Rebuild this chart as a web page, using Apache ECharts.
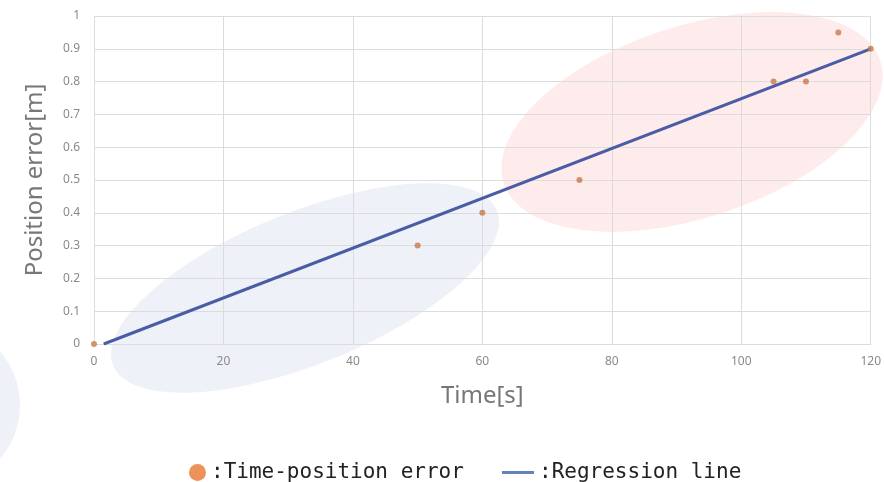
<!DOCTYPE html>
<html>
<head>
<meta charset="utf-8">
<script src="https://cdn.jsdelivr.net/npm/echarts@6/dist/echarts.min.js"></script>
<style>html,body{margin:0;padding:0;background:#fff}#c{width:884px;height:482px}</style>
</head>
<body>
<div id="c"></div>
<script>
// Data
const timeValues = [0, 50, 60, 75, 105, 110, 115, 120];
const errorValues = [0, 0.3, 0.4, 0.5, 0.8, 0.8, 0.95, 0.9];
const regressionX = [1.5, 120];
const regressionY = [0, 0.9];
const xTicks = [0, 20, 40, 60, 80, 100, 120];
const yTicks = [0, 0.1, 0.2, 0.3, 0.4, 0.5, 0.6, 0.7, 0.8, 0.9, 1];
const scatterName = 'Time-position error';
const lineName = 'Regression line';

const chart = echarts.init(document.getElementById('c'));
const gridColor = '#dcdcdc';
const labelColor = '#8a8a8a';
const titleFont = '"Noto Sans", "DejaVu Sans", sans-serif';
const legendFont = '"DejaVu Sans Mono", monospace';

chart.setOption({
  backgroundColor: '#ffffff',
  animation: false,
  graphic: [
    { type: 'circle', z: -10, x: 305, y: 288, rotation: 22 * Math.PI / 180, scaleX: 207, scaleY: 76,
      shape: { cx: 0, cy: 0, r: 1 }, style: { fill: 'rgba(214,218,240,0.38)' } },
    { type: 'circle', z: -10, x: 692, y: 122, rotation: 18 * Math.PI / 180, scaleX: 198, scaleY: 96,
      shape: { cx: 0, cy: 0, r: 1 }, style: { fill: 'rgba(250,208,205,0.40)' } },
    { type: 'circle', z: -10, x: -62, y: 405, scaleX: 82, scaleY: 82,
      shape: { cx: 0, cy: 0, r: 1 }, style: { fill: 'rgba(214,218,240,0.38)' } }
  ],
  grid: { left: 94, right: 12, top: 16, bottom: 138, containLabel: false },
  legend: [
    {
      data: [{ name: scatterName, icon: 'circle', itemStyle: { color: '#e8772e' } }],
      left: 184, top: 457, itemWidth: 17, itemHeight: 17, itemGap: 0,
      formatter: ':{name}',
      textStyle: { fontFamily: legendFont, fontSize: 21, color: '#222' }
    },
    {
      data: [{ name: lineName, icon: 'rect', itemStyle: { color: '#6482bb' }, lineStyle: { color: '#6482bb', width: 3 } }],
      left: 497, top: 457, itemWidth: 32, itemHeight: 3, itemGap: 0,
      formatter: ':{name}',
      textStyle: { fontFamily: legendFont, fontSize: 21, color: '#222' }
    }
  ],
  xAxis: {
    type: 'value', min: 0, max: 120, interval: 20,
    name: 'Time[s]', nameLocation: 'middle', nameGap: 40,
    nameTextStyle: { fontFamily: titleFont, fontSize: 24, color: '#777777' },
    axisLine: { show: true, lineStyle: { color: gridColor, width: 1 } },
    axisTick: { show: false },
    axisLabel: { color: labelColor, fontSize: 12, margin: 12, fontFamily: titleFont,
      formatter: v => xTicks.includes(v) ? String(v) : '' },
    splitLine: { show: true, lineStyle: { color: gridColor, width: 1 } }
  },
  yAxis: {
    type: 'value', min: 0, max: 1, interval: 0.1,
    name: 'Position error[m]', nameLocation: 'middle', nameGap: 47,
    nameTextStyle: { fontFamily: titleFont, fontSize: 24, color: '#777777' },
    axisLine: { show: true, lineStyle: { color: gridColor, width: 1 } },
    axisTick: { show: false },
    axisLabel: { color: labelColor, fontSize: 12, margin: 14, fontFamily: titleFont,
      formatter: v => { const t = yTicks.find(k => Math.abs(k - v) < 1e-9); return t === undefined ? '' : String(t); } },
    splitLine: { show: true, lineStyle: { color: gridColor, width: 1 } }
  },
  series: [
    {
      name: lineName, type: 'line', z: 3,
      data: regressionX.map((x, i) => [x, regressionY[i]]),
      symbol: 'none', showSymbol: false,
      lineStyle: { color: '#4a5ca6', width: 3 },
      itemStyle: { color: '#4a5ca6' }
    },
    {
      name: scatterName, type: 'scatter', z: 4,
      data: timeValues.map((x, i) => [x, errorValues[i]]),
      symbolSize: 6,
      itemStyle: { color: '#c9794a' }
    }
  ]
});
</script>
</body>
</html>
